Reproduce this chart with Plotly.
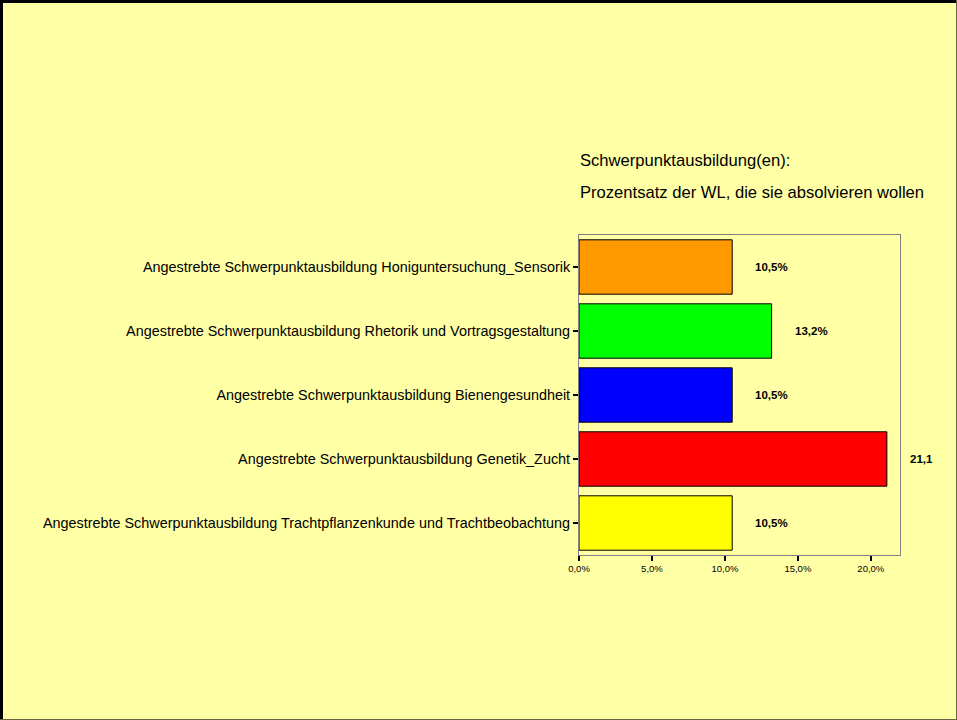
import plotly.graph_objects as go

categories = [
    "Angestrebte Schwerpunktausbildung Honiguntersuchung_Sensorik",
    "Angestrebte Schwerpunktausbildung Rhetorik und Vortragsgestaltung",
    "Angestrebte Schwerpunktausbildung Bienengesundheit",
    "Angestrebte Schwerpunktausbildung Genetik_Zucht",
    "Angestrebte Schwerpunktausbildung Trachtpflanzenkunde und Trachtbeobachtung",
]
values = [10.5, 13.2, 10.5, 21.1, 10.5]
value_labels = ["10,5%", "13,2%", "10,5%", "21,1", "10,5%"]
colors = ["#FF9900", "#00FF00", "#0000FF", "#FF0000", "#FFFF00"]
x_ticks = [0, 5, 10, 15, 20]
x_tick_labels = ["0,0%", "5,0%", "10,0%", "15,0%", "20,0%"]
title_lines = ["Schwerpunktausbildung(en):", "Prozentsatz der WL, die sie absolvieren wollen"]

W, H = 957, 720
ml, mr, mt, mb = 579, 57, 235, 165
pw, ph = W - ml - mr, H - mt - mb
BG = "#FFFFA6"
FONT = "Liberation Sans, Arial, sans-serif"

fig = go.Figure(go.Bar(
    x=values, y=categories, orientation="h",
    marker=dict(color=colors, line=dict(color="black", width=1)),
    width=0.85, showlegend=False, hoverinfo="skip",
))

annotations = []
for c, v, t in zip(categories, values, value_labels):
    annotations.append(dict(x=v, y=c, xref="x", yref="y", text="<b>" + t + "</b>",
                            showarrow=False, xanchor="left", xshift=21,
                            font=dict(size=11.5, color="black", family=FONT)))

def py(pix_y):
    return (H - mb - pix_y) / ph

def px_(pix_x):
    return (pix_x - ml) / pw

annotations.append(dict(x=px_(578), y=py(160), xref="paper", yref="paper", text=title_lines[0],
                        showarrow=False, xanchor="left", yanchor="middle",
                        font=dict(size=16.6, color="black", family=FONT)))
annotations.append(dict(x=px_(578), y=py(192), xref="paper", yref="paper", text=title_lines[1],
                        showarrow=False, xanchor="left", yanchor="middle",
                        font=dict(size=16.6, color="black", family=FONT)))

shapes = [
    dict(type="line", xref="paper", yref="paper", x0=px_(0), x1=px_(W), y0=py(1.5), y1=py(1.5),
         line=dict(color="black", width=3)),
    dict(type="line", xref="paper", yref="paper", x0=px_(1.5), x1=px_(1.5), y0=py(0), y1=py(H),
         line=dict(color="black", width=3)),
    dict(type="line", xref="paper", yref="paper", x0=px_(0), x1=px_(W), y0=py(H - 0.5), y1=py(H - 0.5),
         line=dict(color="#666644", width=1)),
    dict(type="line", xref="paper", yref="paper", x0=px_(W - 0.5), x1=px_(W - 0.5), y0=py(0), y1=py(H),
         line=dict(color="#666644", width=1)),
]

fig.update_layout(
    width=W, height=H,
    margin=dict(l=ml, r=mr, t=mt, b=mb, pad=0),
    paper_bgcolor=BG, plot_bgcolor=BG,
    separators=",.",
    bargap=0.15,
    font=dict(family=FONT, color="black"),
    annotations=annotations,
    shapes=shapes,
    xaxis=dict(range=[0, 22], tickvals=x_ticks, ticktext=x_tick_labels,
               ticks="outside", ticklen=5, tickwidth=2, tickcolor="black",
               showgrid=False, zeroline=False, showline=True, linecolor="#808080",
               linewidth=1, mirror=True, tickfont=dict(size=9.5, family=FONT)),
    yaxis=dict(autorange="reversed", ticks="outside", ticklen=5, tickwidth=2, tickcolor="black",
               showgrid=False, zeroline=False, showline=True, linecolor="#808080",
               linewidth=1, mirror=True, tickfont=dict(size=14.4, family=FONT)),
)

fig.write_html("out.html", config={"displayModeBar": False},
               post_script="document.body.style.margin='0';document.body.style.overflow='hidden';")
